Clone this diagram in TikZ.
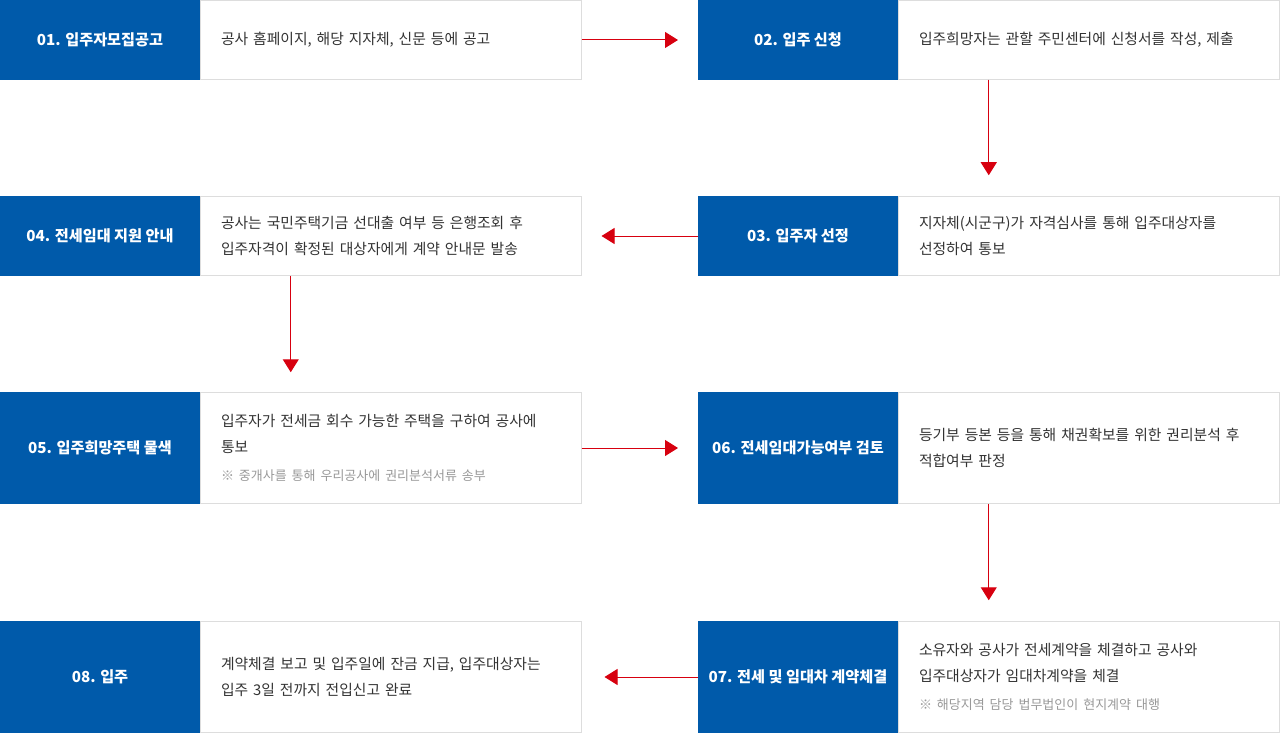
\documentclass[tikz,border=0pt]{standalone}
\usepackage{fontspec}
\setmainfont{Noto Sans CJK KR}
\usetikzlibrary{arrows.meta,calc}
\definecolor{stepblue}{HTML}{005AAA}
\definecolor{linegray}{HTML}{DDDDDD}
\definecolor{textgray}{HTML}{333333}
\definecolor{notegray}{HTML}{999999}
\definecolor{arrowred}{HTML}{D7000F}
\newcommand{\notetext}[1]{{\color{notegray}\fontsize{13}{16}\selectfont #1}}
\begin{document}
\begin{tikzpicture}[x=1pt,y=-1pt,
  titlebox/.style={fill=stepblue, text=white, font=\bfseries\fontsize{15.2}{18}\selectfont,
    minimum width=200pt, minimum height=#1, inner sep=0pt, outer sep=0pt, anchor=north west},
  descbox/.style={draw=linegray, line width=1pt, fill=white, minimum width=381pt, minimum height=#1,
    anchor=north west, text width=340pt, inner xsep=20.5pt, inner ysep=0pt, outer sep=0pt, align=left,
    font=\fontsize{14.8}{26}\selectfont, text=textgray},
  flow/.style={draw=arrowred, line width=1pt, -{Triangle[length=13pt,width=16pt]}}
]
\useasboundingbox (0,0) rectangle (1280,733);

% row 1
\node[titlebox=80pt] (t1) at (0,0) {01. 입주자모집공고};
\node[descbox=79pt] (d1) at (200.5,0.5) {공사 홈페이지, 해당 지자체, 신문 등에 공고};
\node[titlebox=80pt] (t2) at (698,0) {02. 입주 신청};
\node[descbox=79pt] (d2) at (898.5,0.5) {입주희망자는 관할 주민센터에 신청서를 작성, 제출};

% row 2
\node[titlebox=80pt] (t4) at (0,196) {04. 전세임대 지원 안내};
\node[descbox=79pt] (d4) at (200.5,196.5) {공사는 국민주택기금 선대출 여부 등 은행조회 후\\입주자격이 확정된 대상자에게 계약 안내문 발송};
\node[titlebox=80pt] (t3) at (698,196) {03. 입주자 선정};
\node[descbox=79pt] (d3) at (898.5,196.5) {지자체(시군구)가 자격심사를 통해 입주대상자를\\선정하여 통보};

% row 3
\node[titlebox=112pt] (t5) at (0,392) {05. 입주희망주택 물색};
\node[descbox=111pt] (d5) at (200.5,392.5) {입주자가 전세금 회수 가능한 주택을 구하여 공사에\\통보\\[2pt]\notetext{※ 중개사를 통해 우리공사에 권리분석서류 송부}};
\node[titlebox=112pt] (t6) at (698,392) {06. 전세임대가능여부 검토};
\node[descbox=111pt] (d6) at (898.5,392.5) {등기부 등본 등을 통해 채권확보를 위한 권리분석 후\\적합여부 판정};

% row 4
\node[titlebox=112pt] (t8) at (0,621) {08. 입주};
\node[descbox=111pt] (d8) at (200.5,621.5) {계약체결 보고 및 입주일에 잔금 지급, 입주대상자는\\입주 3일 전까지 전입신고 완료};
\node[titlebox=112pt] (t7) at (698,621) {07. 전세 및 임대차 계약체결};
\node[descbox=111pt] (d7) at (898.5,621.5) {소유자와 공사가 전세계약을 체결하고 공사와\\입주대상자가 임대차계약을 체결\\[2pt]\notetext{※ 해당지역 담당 법무법인이 현지계약 대행}};

% connectors
\draw[flow, shorten >=20pt] (d1.east) -- (t2.west);
\draw[flow, shorten >=21pt] ($(t2.south west)!.5!(d2.south east)$) -- ($(t3.north west)!.5!(d3.north east)$);
\draw[flow, shorten >=20pt] (t3.west) -- (d4.east);
\draw[flow, shorten >=20pt] ($(t4.south west)!.5!(d4.south east)$) -- ($(t5.north west)!.5!(d5.north east)$);
\draw[flow, shorten >=20pt] (d5.east) -- (t6.west);
\draw[flow, shorten >=21pt] ($(t6.south west)!.5!(d6.south east)$) -- ($(t7.north west)!.5!(d7.north east)$);
\draw[flow, shorten >=23pt] (t7.west) -- (d8.east);
\end{tikzpicture}
\end{document}
